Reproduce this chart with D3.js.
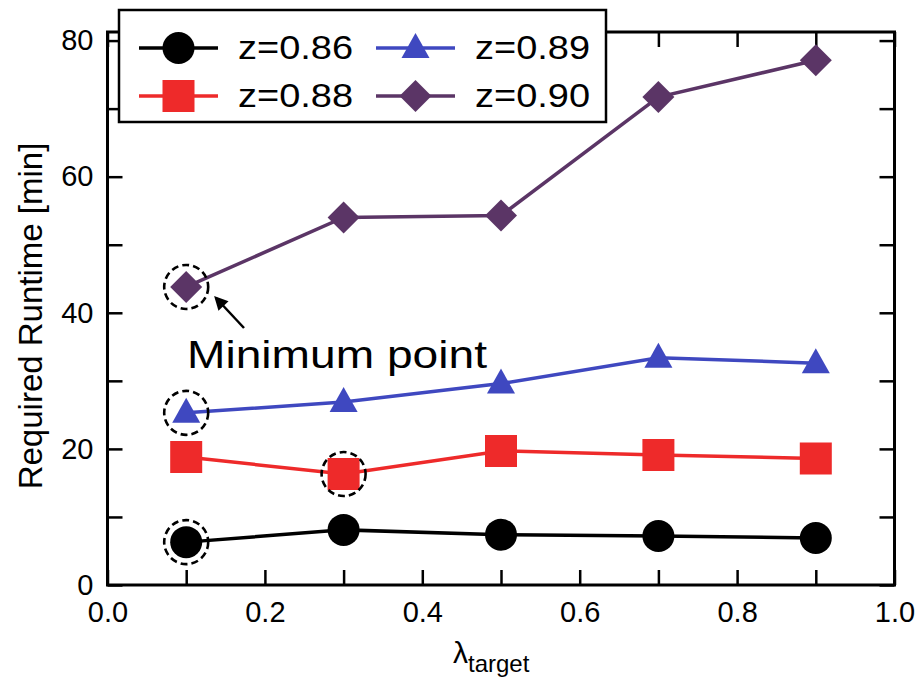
<!DOCTYPE html>
<html><head><meta charset="utf-8">
<script src="https://cdn.jsdelivr.net/npm/d3@7"></script>
<style>body{margin:0;background:#fff}svg{display:block}text{font-family:"Liberation Sans",Arial,sans-serif}</style>
</head><body><svg id="c" width="918" height="678"></svg>
<script>
const lambdas = [0.1, 0.3, 0.5, 0.7, 0.9];
const z086 = [6.3, 8.1, 7.4, 7.2, 6.9];
const z088 = [18.8, 16.3, 19.7, 19.1, 18.6];
const z089 = [25.3, 26.9, 29.6, 33.4, 32.6];
const z090 = [43.8, 54.0, 54.3, 71.7, 77.1];
const seriesNames = ["z=0.86", "z=0.88", "z=0.89", "z=0.90"];
const seriesColors = ["#000000", "#EE2A2A", "#3F48C0", "#5B3566"];
const seriesShapes = ["circle", "square", "triangle", "diamond"];
const xTicks = [0, 0.1, 0.2, 0.3, 0.4, 0.5, 0.6, 0.7, 0.8, 0.9, 1.0];
const yTicks = [0, 10, 20, 30, 40, 50, 60, 70, 80];
// minimum points: [series index, point index]
const minima = [[0, 0], [1, 1], [2, 0], [3, 0]];

const series = [z086, z088, z089, z090].map((v, i) => ({
  name: seriesNames[i], color: seriesColors[i], shape: seriesShapes[i],
  values: v.map((y, j) => ({x: lambdas[j], y}))
}));

const svg = d3.select("#c");
const L = 107.5, R = 894.5, T = 32, B = 585;
const x = d3.scaleLinear().domain([0, 1]).range([L, R]);
const y = d3.scaleLinear().domain([0, 81.26]).range([B, T]);

const fmtX = d => (Math.round(d * 10) % 2 === 0) ? d3.format(".1f")(d) : "";
const fmtY = d => (d % 20 === 0) ? d : "";

function styleAxis(g) {
  g.select(".domain").remove();
  g.selectAll(".tick line").attr("stroke", "#000").attr("stroke-width", 2.5);
  g.selectAll(".tick text").attr("fill", "#000").attr("font-size", 29);
}
svg.append("g").attr("transform", `translate(0,${B})`)
  .call(d3.axisBottom(x).tickValues(xTicks).tickFormat(fmtX).tickSizeInner(-15).tickSizeOuter(0).tickPadding(16)).call(styleAxis);
svg.append("g").attr("transform", `translate(0,${T})`)
  .call(d3.axisTop(x).tickValues(xTicks).tickFormat("").tickSizeInner(-15).tickSizeOuter(0)).call(styleAxis);
svg.append("g").attr("transform", `translate(${L},0)`)
  .call(d3.axisLeft(y).tickValues(yTicks).tickFormat(fmtY).tickSizeInner(-15).tickSizeOuter(0).tickPadding(14)).call(styleAxis);
svg.append("g").attr("transform", `translate(${R},0)`)
  .call(d3.axisRight(y).tickValues(yTicks).tickFormat("").tickSizeInner(-15).tickSizeOuter(0)).call(styleAxis);

svg.append("rect").attr("x", L).attr("y", T).attr("width", R - L).attr("height", B - T)
  .attr("fill", "none").attr("stroke", "#000").attr("stroke-width", 3);

// axis titles
const xt = svg.append("text").attr("x", 453).attr("y", 663).attr("font-size", 30).attr("fill", "#000");
xt.append("tspan").text("λ");
xt.append("tspan").attr("font-size", 24).attr("dy", 9).text("target");
svg.append("text").attr("transform", `translate(42,316) rotate(-90)`)
  .attr("text-anchor", "middle").attr("font-size", 33).attr("fill", "#000").text("Required Runtime [min]");

function symbolPath(shape) {
  if (shape === "circle") return "M16,0A16,16 0 1,1 -16,0A16,16 0 1,1 16,0Z";
  if (shape === "square") return "M-16,-16H16V16H-16Z";
  if (shape === "triangle") return "M0,-15L14,10L-14,10Z";
  return "M0,-16L16,0L0,16L-16,0Z";
}

const line = d3.line().x(d => x(d.x)).y(d => y(d.y));
const sg = svg.selectAll(".series").data(series).join("g");
sg.append("path").attr("d", d => line(d.values)).attr("fill", "none")
  .attr("stroke", d => d.color).attr("stroke-width", 3.5);
sg.each(function(s) {
  d3.select(this).selectAll(".pt").data(s.values).join("path")
    .attr("transform", d => `translate(${x(d.x)},${y(d.y)})`)
    .attr("d", symbolPath(s.shape)).attr("fill", s.color);
});

// dashed circles on minima
svg.selectAll(".minc").data(minima).join("circle")
  .attr("cx", d => x(series[d[0]].values[d[1]].x))
  .attr("cy", d => y(series[d[0]].values[d[1]].y))
  .attr("r", 22).attr("fill", "none").attr("stroke", "#000")
  .attr("stroke-width", 2.6).attr("stroke-dasharray", "7,4");

// annotation
svg.append("defs").append("marker").attr("id", "ah").attr("viewBox", "0 0 10 10")
  .attr("refX", 8).attr("refY", 5).attr("markerWidth", 6).attr("markerHeight", 5.5)
  .attr("orient", "auto").append("path").attr("d", "M0,0L10,5L0,10Z").attr("fill", "#000");
svg.append("line").attr("x1", 244).attr("y1", 328).attr("x2", 216).attr("y2", 298)
  .attr("stroke", "#000").attr("stroke-width", 2.5).attr("marker-end", "url(#ah)");
svg.append("text").attr("x", 187).attr("y", 368).attr("font-size", 39)
  .attr("textLength", 300).attr("lengthAdjust", "spacingAndGlyphs")
  .attr("font-family", "'Open Sans', 'Noto Sans', sans-serif").attr("fill", "#000").text("Minimum point");

// legend
const lg = svg.append("g");
lg.append("rect").attr("x", 119).attr("y", 10).attr("width", 487).attr("height", 112)
  .attr("fill", "#fff").attr("stroke", "#000").attr("stroke-width", 2.5);
const legPos = [[139, 48], [139, 96], [376, 48], [376, 96]];
series.forEach((s, i) => {
  const [lx, ly] = legPos[i];
  const g = lg.append("g").attr("transform", `translate(${lx},${ly})`);
  g.append("line").attr("x1", 0).attr("x2", 79).attr("y1", 0).attr("y2", 0)
    .attr("stroke", s.color).attr("stroke-width", 3.5);
  g.append("path").attr("transform", "translate(39.5,0)").attr("d", symbolPath(s.shape)).attr("fill", s.color);
  g.append("text").attr("x", 99).attr("y", 11).attr("font-size", 33)
    .attr("textLength", 115).attr("lengthAdjust", "spacingAndGlyphs").attr("fill", "#000").text(s.name);
});
</script></body></html>
